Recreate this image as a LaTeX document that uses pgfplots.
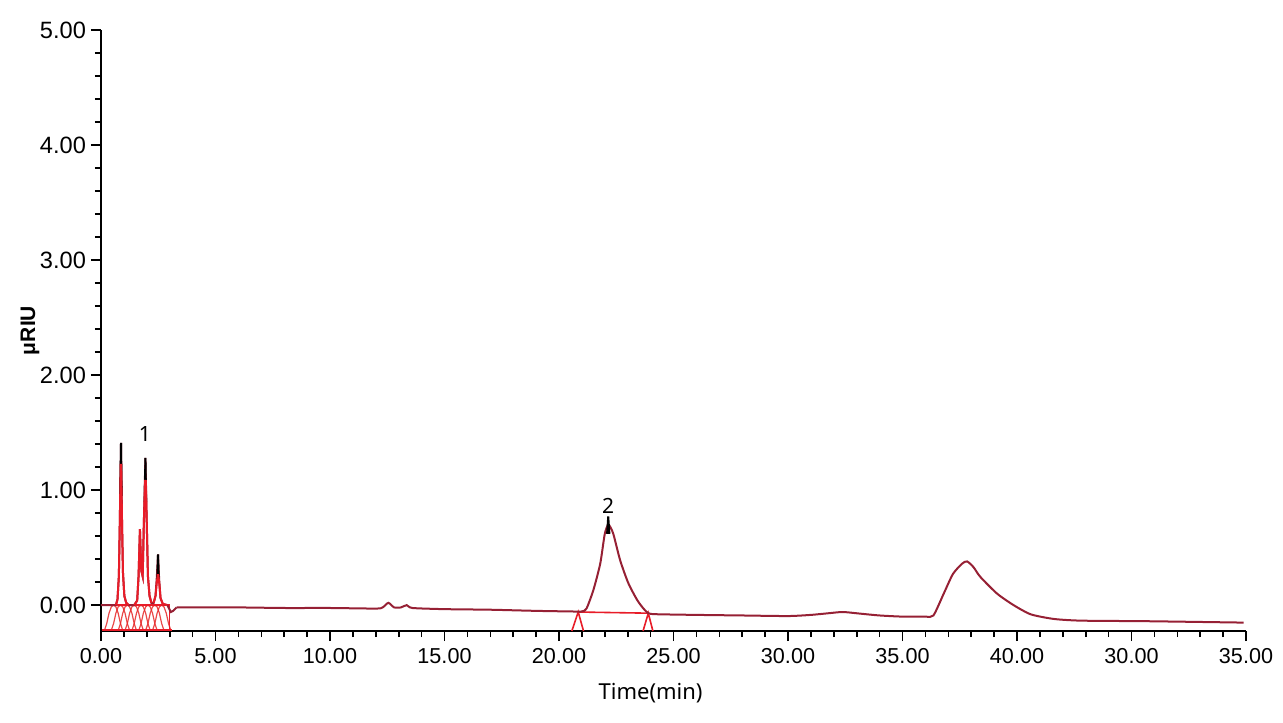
\documentclass[border=0pt]{standalone}
\usepackage{fontspec}
\setmainfont{Liberation Sans}
\newfontfamily\notosans{Noto Sans}
\usepackage{pgfplots}
\pgfplotsset{compat=1.18}
\definecolor{trace}{RGB}{150,32,52}
\definecolor{pk}{RGB}{232,28,40}
\definecolor{hill}{RGB}{230,40,40}
\begin{document}
\begin{tikzpicture}
\begin{axis}[
  at={(50.5pt,45.5pt)}, anchor=south west,
  scale only axis, width=572.5pt, height=300.5pt,
  xmin=0, xmax=50, ymin=-0.225, ymax=5,
  axis x line=bottom, axis y line=left,
  axis line style={-, black, line width=1pt},
  xtick={0,5,10,15,20,25,30,35,40,45,50},
  xticklabels={0.00,5.00,10.00,15.00,20.00,25.00,30.00,35.00,40.00,30.00,35.00},
  minor x tick num=4,
  ytick={0,1,2,3,4,5},
  yticklabels={0.00,1.00,2.00,3.00,4.00,5.00},
  minor y tick num=4,
  tick align=outside, major tick length=5pt, minor tick length=3pt,
  tick style={black, line width=0.8pt},
  xticklabel style={font=\fontsize{10.8}{12}\selectfont},
  yticklabel style={font=\fontsize{11.8}{13}\selectfont, xshift=1pt},
  every axis x label/.style={at={(axis description cs:0.48,-0.103)}, anchor=center, font=\notosans\fontsize{11}{13}\selectfont},
  every axis y label/.style={at={(axis description cs:-0.062,0.5)}, rotate=90, anchor=center, font=\bfseries\fontsize{10.5}{12}\selectfont},
  xlabel={Time(min)},
  ylabel={μRIU},
]
% integration hills, peak group 1
\addplot[hill, line width=0.6pt, opacity=0.85] coordinates {(0.15,-0.22) (0.25,-0.16) (0.35,-0.07) (0.45,-0.015) (0.55,0) (0.65,-0.015) (0.75,-0.07) (0.85,-0.16) (0.95,-0.22)};
\addplot[hill, line width=0.6pt, opacity=0.85] coordinates {(0.45,-0.22) (0.55,-0.16) (0.65,-0.07) (0.75,-0.015) (0.85,0) (0.95,-0.015) (1.05,-0.07) (1.15,-0.16) (1.25,-0.22)};
\addplot[hill, line width=0.6pt, opacity=0.85] coordinates {(0.75,-0.22) (0.85,-0.16) (0.95,-0.07) (1.05,-0.015) (1.15,0) (1.25,-0.015) (1.35,-0.07) (1.45,-0.16) (1.55,-0.22)};
\addplot[hill, line width=0.6pt, opacity=0.85] coordinates {(1.05,-0.22) (1.15,-0.16) (1.25,-0.07) (1.35,-0.015) (1.45,0) (1.55,-0.015) (1.65,-0.07) (1.75,-0.16) (1.85,-0.22)};
\addplot[hill, line width=0.6pt, opacity=0.85] coordinates {(1.35,-0.22) (1.45,-0.16) (1.55,-0.07) (1.65,-0.015) (1.75,0) (1.85,-0.015) (1.95,-0.07) (2.05,-0.16) (2.15,-0.22)};
\addplot[hill, line width=0.6pt, opacity=0.85] coordinates {(1.65,-0.22) (1.75,-0.16) (1.85,-0.07) (1.95,-0.015) (2.05,0) (2.15,-0.015) (2.25,-0.07) (2.35,-0.16) (2.45,-0.22)};
\addplot[hill, line width=0.6pt, opacity=0.85] coordinates {(1.95,-0.22) (2.05,-0.16) (2.15,-0.07) (2.25,-0.015) (2.35,0) (2.45,-0.015) (2.55,-0.07) (2.65,-0.16) (2.75,-0.22)};
\addplot[hill, line width=0.6pt, opacity=0.85] coordinates {(2.25,-0.22) (2.35,-0.16) (2.45,-0.07) (2.55,-0.015) (2.65,0) (2.75,-0.015) (2.85,-0.07) (2.95,-0.16) (3.05,-0.22)};
\addplot[pk, line width=1.2pt] coordinates {(0.05,-0.215) (3.1,-0.215)};
\addplot[pk, line width=0.8pt] coordinates {(0.3,0.0) (3.0,0.0)};
\addplot[pk, line width=0.6pt] coordinates {(3.0,-0.22) (3.0,0.0)};
% integration marks, peak 2
\addplot[pk, line width=0.8pt] coordinates {(20.84,-0.06) (23.9,-0.07)};
\addplot[pk, line width=0.8pt] coordinates {(20.56,-0.225) (20.84,-0.06) (21.07,-0.225)};
\addplot[pk, line width=0.8pt] coordinates {(23.67,-0.225) (23.9,-0.07) (24.1,-0.225)};
% main trace
\addplot[trace, line width=1pt] coordinates {
(0,0.0) (0.5,0.0) (0.65,0.0) (0.72,0.05) (0.78,0.25) (0.82,0.7) (0.874,1.41) (0.92,0.7) (0.96,0.28) (1.02,0.08) (1.1,0.02) (1.2,0.0)
(1.45,0.0) (1.58,0.04) (1.64,0.25) (1.70,0.66) (1.76,0.3) (1.82,0.25) (1.87,0.7) (1.94,1.28) (2.00,0.7) (2.05,0.25) (2.12,0.08) (2.2,0.02)
(2.3,0.02) (2.38,0.08) (2.44,0.25) (2.49,0.44) (2.54,0.22) (2.6,0.06) (2.7,0.01) (2.9,0.0) (3.05,-0.06) (3.15,-0.05) (3.3,-0.02)};
\addplot[trace, line width=1pt, smooth, tension=0.4] coordinates {
(3.3,-0.02) (4,-0.02) (6,-0.02) (8,-0.025) (10,-0.025) (12,-0.03) (12.3,-0.02) (12.55,0.02) (12.8,-0.02) (13.1,-0.02) (13.35,0.0) (13.6,-0.025)
(15,-0.035) (17,-0.04) (19,-0.05) (20.5,-0.055) (21.0,-0.055) (21.2,-0.03) (21.5,0.13) (21.8,0.36) (22.0,0.62) (22.16,0.70)
(22.37,0.62) (22.67,0.39) (23.03,0.19) (23.46,0.03) (23.9,-0.07) (24.5,-0.08) (26,-0.085) (28,-0.09) (30,-0.095) (31,-0.085)
(31.8,-0.07) (32.4,-0.06) (33.2,-0.075) (34,-0.09) (35,-0.10) (36.0,-0.10) (36.35,-0.09) (36.8,0.10) (37.2,0.27) (37.6,0.36)
(37.82,0.38) (38.1,0.33) (38.4,0.245) (39.13,0.10) (39.85,0.0) (40.6,-0.08) (41.6,-0.12) (42.8,-0.135) (45.7,-0.14) (49.9,-0.152)};
% red peaks with black tips
\addplot[black, line width=1pt] coordinates {(0.84,0.95) (0.874,1.41) (0.90,0.95)};
\addplot[black, line width=1pt] coordinates {(1.91,0.9) (1.94,1.28) (1.97,0.9)};
\addplot[black, line width=1pt] coordinates {(2.46,0.2) (2.49,0.44) (2.52,0.2)};
\addplot[black, line width=1pt] coordinates {(22.1,0.62) (22.15,0.77) (22.2,0.62)};
\addplot[pk, line width=1pt] coordinates {(0.65,0.0) (0.72,0.05) (0.78,0.25) (0.82,0.7) (0.86,1.22) (0.88,1.22) (0.92,0.7) (0.96,0.28) (1.02,0.08) (1.1,0.02) (1.2,0.0)};
\addplot[pk, line width=1pt] coordinates {(1.45,0.0) (1.58,0.04) (1.64,0.25) (1.70,0.66) (1.76,0.3) (1.82,0.25) (1.87,0.7) (1.925,1.08) (1.955,1.08) (2.00,0.7) (2.05,0.25) (2.12,0.08) (2.2,0.02)};
\addplot[pk, line width=1pt] coordinates {(2.3,0.02) (2.38,0.08) (2.44,0.2) (2.48,0.26) (2.50,0.26) (2.54,0.2) (2.6,0.06) (2.7,0.01) (2.9,0.0)};
\node[font=\notosans\fontsize{10.5}{12}\selectfont] at (axis cs:1.92,1.49) {1};
\node[font=\notosans\fontsize{10.5}{12}\selectfont] at (axis cs:22.15,0.86) {2};
\end{axis}
\pgfresetboundingbox
\useasboundingbox (0,0) rectangle (641.5pt,361pt);
\end{tikzpicture}
\end{document}
